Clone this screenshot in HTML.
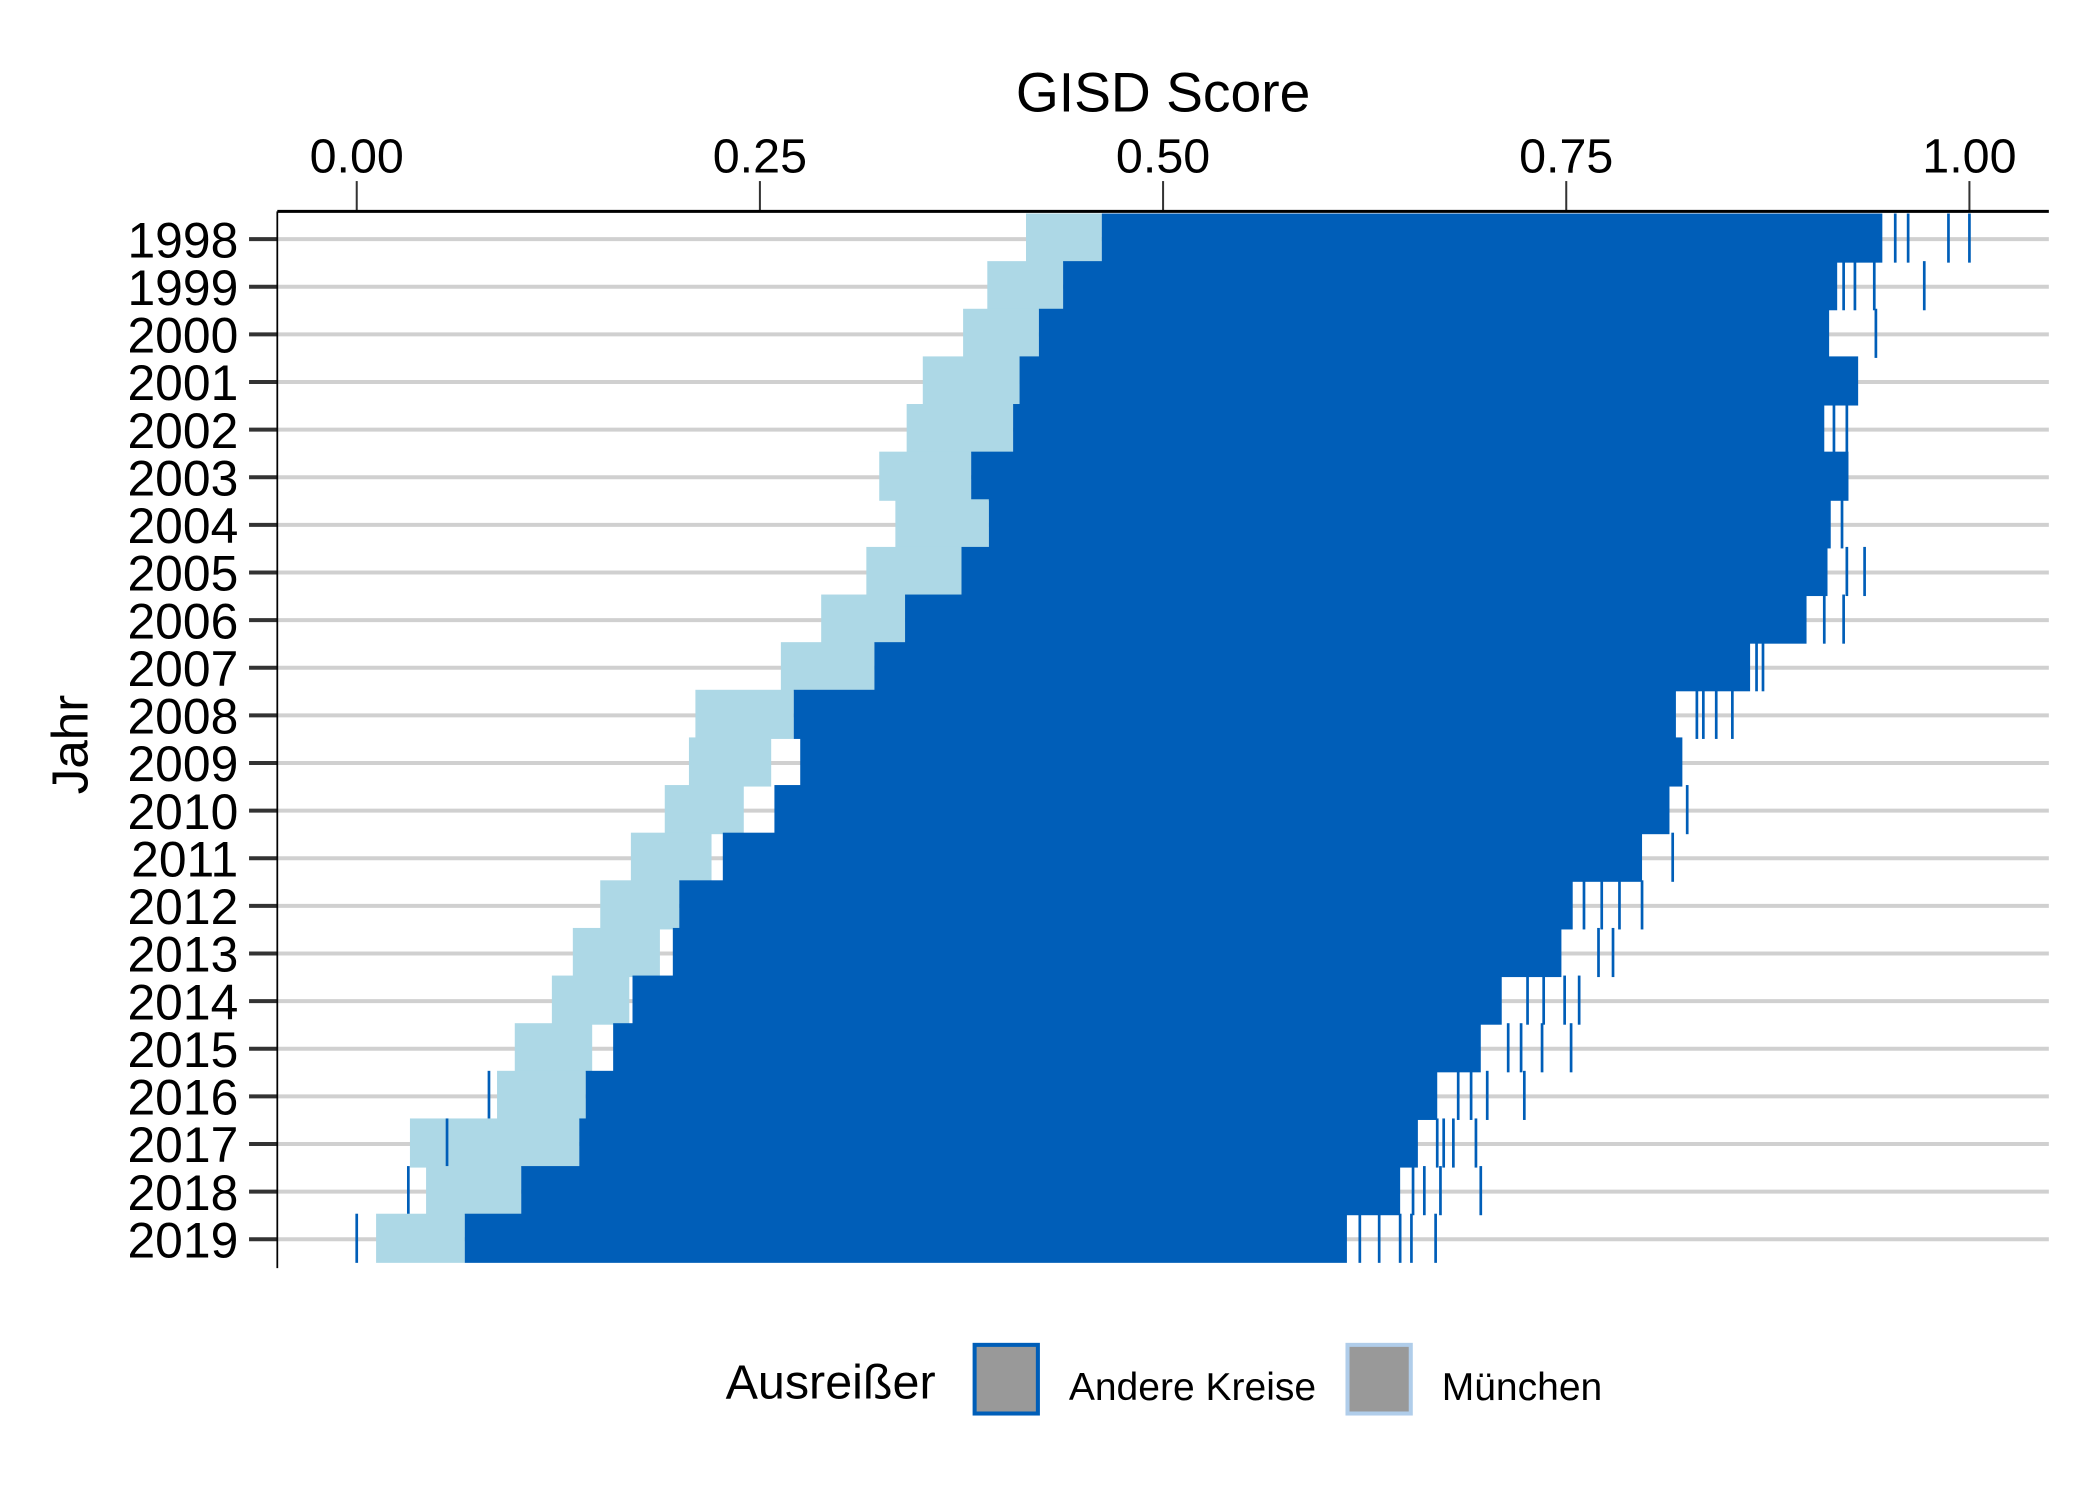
<!DOCTYPE html>
<html><head><meta charset="utf-8"><style>
html,body{margin:0;padding:0;background:#fff}
svg{display:block}
text{font-family:"Liberation Sans",Arial,sans-serif}
</style></head><body>
<svg id="chart" width="2100" height="1499" viewBox="0 0 1560 1113.5" preserveAspectRatio="none" xmlns="http://www.w3.org/2000/svg">
<g id="grid"></g>
<g id="bars"></g>
<g id="axes"></g>
<text x="864" y="83" font-size="41" text-anchor="middle">GISD Score</text>
<text transform="translate(65,553) rotate(-90)" font-size="38" text-anchor="middle">Jahr</text>
<g>
<text x="539" y="1039" font-size="36">Ausreißer</text>
<rect x="724" y="999" width="47" height="51" fill="#999" stroke="#005EB8" stroke-width="3"/>
<text x="794" y="1040" font-size="29">Andere Kreise</text>
<rect x="1001" y="999" width="47" height="51" fill="#999" stroke="#B0CDEA" stroke-width="3"/>
<text x="1071" y="1040" font-size="29">München</text>
</g>
</svg>
<script>
const years = [1998,1999,2000,2001,2002,2003,2004,2005,2006,2007,2008,2009,2010,2011,2012,2013,2014,2015,2016,2017,2018,2019];
const muenchenStart = [0.415,0.391,0.376,0.351,0.341,0.324,0.334,0.316,0.288,0.263,0.210,0.206,0.191,0.170,0.151,0.134,0.121,0.098,0.087,0.033,0.043,0.012];
const muenchenEnd   = [0.462,0.438,0.423,0.411,0.407,0.381,0.392,0.375,0.340,0.321,0.271,0.257,0.240,0.220,0.200,0.188,0.169,0.146,0.142,0.138,0.102,0.067];
const kreiseStart   = [0.462,0.438,0.423,0.411,0.407,0.381,0.392,0.375,0.340,0.321,0.271,0.275,0.259,0.227,0.200,0.196,0.171,0.159,0.142,0.138,0.102,0.067];
const kreiseEnd     = [0.946,0.918,0.913,0.931,0.910,0.925,0.914,0.912,0.899,0.864,0.818,0.822,0.814,0.797,0.754,0.747,0.710,0.697,0.670,0.658,0.647,0.614];
const outliers = [
 [0.954,0.962,0.987,1.0],
 [0.922,0.929,0.941,0.972],
 [0.942],
 [],
 [0.916,0.924],
 [],
 [0.921],
 [0.924,0.935],
 [0.910,0.922],
 [0.868,0.872],
 [0.831,0.835,0.843,0.853],
 [],
 [0.825],
 [0.816],
 [0.761,0.772,0.783,0.797],
 [0.770,0.779],
 [0.726,0.736,0.749,0.758],
 [0.714,0.722,0.735,0.753],
 [0.082,0.683,0.691,0.701,0.724],
 [0.056,0.670,0.674,0.680,0.694],
 [0.032,0.655,0.662,0.672,0.697],
 [0.000,0.622,0.634,0.647,0.654,0.669]
];
const xTicks = [0,0.25,0.5,0.75,1.0];
const xTickLabels = ["0.00","0.25","0.50","0.75","1.00"];

const NS="http://www.w3.org/2000/svg";
const X0=265, X1=1463, PL=206, PR=1522, PT=157, PB=942;
const x = v => X0 + v*(X1-X0);
const yc = i => 177.6 + i*35.38;
function mk(tag, attrs, parent){const e=document.createElementNS(NS,tag);for(const k in attrs)e.setAttribute(k,attrs[k]);parent.appendChild(e);return e;}
const grid=document.getElementById('grid'), bars=document.getElementById('bars'), axes=document.getElementById('axes');

years.forEach((yr,i)=>{
  const g=mk('line',{x1:PL,x2:PR,y1:yc(i),y2:yc(i),stroke:'#d0d0d0','stroke-width':3},grid);
  
  
  const top=yc(i)-19, h=36.5;
  const m=mk('rect',{x:x(muenchenStart[i]),y:top,width:x(muenchenEnd[i])-x(muenchenStart[i]),height:h,fill:'#ADD8E6'},bars);
  
  
  const k=mk('rect',{x:x(kreiseStart[i]),y:top,width:x(kreiseEnd[i])-x(kreiseStart[i]),height:h,fill:'#005EB8'},bars);
  
  
  outliers[i].forEach(v=>{
    const t=mk('rect',{x:x(v)-1,y:top,width:2,height:h,fill:'#005EB8'},bars);
    
    
  });
  const tk=mk('line',{x1:185,x2:206,y1:yc(i),y2:yc(i),stroke:'#333','stroke-width':3},axes);
  
  
  const lb=mk('text',{x:177,y:yc(i)+13.5,'font-size':37,'text-anchor':'end'},axes);
  lb.textContent=yr;
  
  
});
xTicks.forEach((v,j)=>{
  const t=mk('line',{x1:x(v),x2:x(v),y1:134.5,y2:PT,stroke:'#333','stroke-width':1.5},axes);
  
  
  const l=mk('text',{x:x(v),y:128,'font-size':36,'text-anchor':'middle'},axes);
  l.textContent=xTickLabels[j];
  
  
});
const ya=mk('line',{x1:PL,x2:PL,y1:PT,y2:PB,stroke:'#000','stroke-width':1.3},axes);


const xa=mk('line',{x1:PL,x2:PR,y1:PT,y2:PT,stroke:'#000','stroke-width':2.2},axes);


</script>
</body></html>
